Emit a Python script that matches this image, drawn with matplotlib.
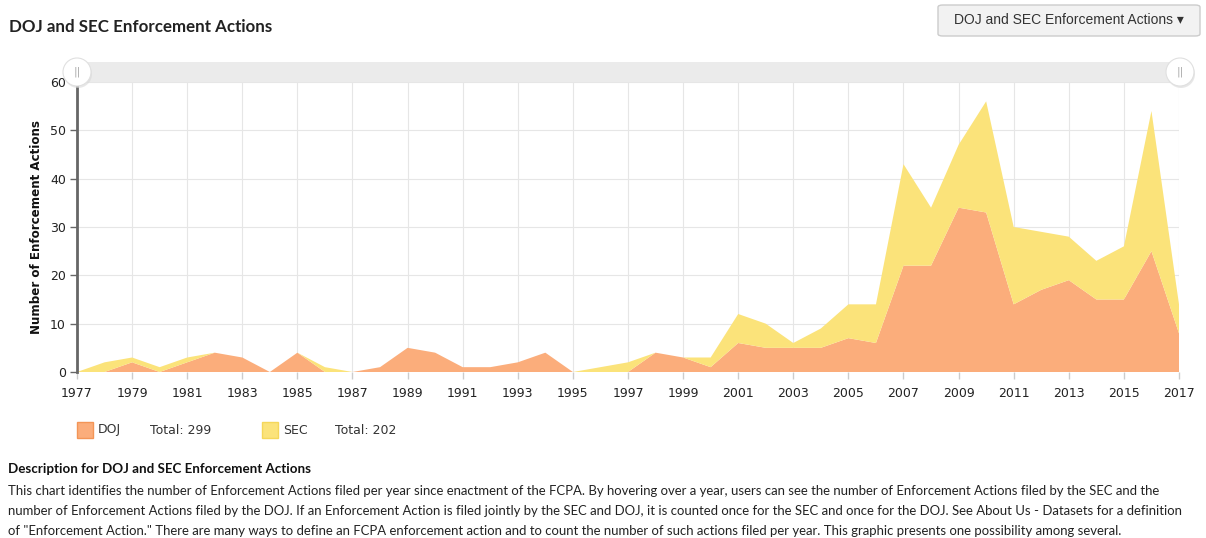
import matplotlib.pyplot as plt
from matplotlib.patches import FancyBboxPatch, Circle, Rectangle

years = list(range(1977, 2018))
doj = [0, 0, 2, 0, 2, 4, 3, 0, 4, 0,
       0, 1, 5, 4, 1, 1, 2, 4, 0, 0,
       0, 4, 3, 1, 6, 5, 5, 5, 7, 6,
       22, 22, 34, 33, 14, 17, 19, 15, 15, 25,
       8]
sec = [0, 2, 1, 1, 1, 0, 0, 0, 0, 1,
       0, 0, 0, 0, 0, 0, 0, 0, 0, 1,
       2, 0, 0, 2, 6, 5, 1, 4, 7, 8,
       21, 12, 13, 23, 16, 12, 9, 8, 11, 29,
       6]
series_names = ['DOJ', 'SEC']
title = 'DOJ and SEC Enforcement Actions'
desc_lines = [
    'This chart identifies the number of Enforcement Actions filed per year since enactment of the FCPA. '
    'By hovering over a year, users can see the number of Enforcement Actions filed by the SEC and the',
    'number of Enforcement Actions filed by the DOJ. If an Enforcement Action is filed jointly by the SEC '
    'and DOJ, it is counted once for the SEC and once for the DOJ. See About Us - Datasets for a definition',
    'of "Enforcement Action." There are many ways to define an FCPA enforcement action and to count the '
    'number of such actions filed per year. This graphic presents one possibility among several.',
]

DOJ_C = '#fbad7b'
SEC_C = '#fbe37a'
W, H = 1206, 538

fig = plt.figure(figsize=(W / 100, H / 100), dpi=100)


def fx(px):
    return px / W


def fy(py):
    return 1 - py / H


ax = fig.add_axes([fx(77), fy(372), fx(1179) - fx(77), fy(82) - fy(372)])
ax.stackplot(years, doj, sec, colors=[DOJ_C, SEC_C], linewidth=0)
ax.set_xlim(1977, 2017)
ax.set_ylim(0, 60)
ax.set_xticks(range(1977, 2018, 2))
ax.set_yticks(range(0, 61, 10))
ax.grid(True, color='#e6e6e6', linewidth=0.8)
ax.set_axisbelow(True)
for s in ['top', 'right', 'bottom']:
    ax.spines[s].set_visible(False)
ax.spines['left'].set_color('#666666')
ax.spines['left'].set_linewidth(2)
ax.tick_params(axis='y', length=5, width=1, color='#666666', labelsize=9,
               labelcolor='#222222', pad=3)
ax.tick_params(axis='x', length=5, width=1, color='#cccccc', labelsize=9,
               labelcolor='#222222', pad=6)
ax.set_ylabel('Number of Enforcement Actions', fontsize=8.6, fontweight='bold',
              color='#111111', labelpad=5)

# range slider on top
fig.patches.append(Rectangle((fx(77), fy(82)), fx(1179) - fx(77), fy(62) - fy(82),
                             transform=fig.transFigure, facecolor='#ebebeb',
                             edgecolor='none'))
for hx in [77, 1180]:
    shadow = Circle(((hx + 1) / 100, (H - 74) / 100), 0.14,
                    transform=fig.dpi_scale_trans, facecolor='#d8d8d8',
                    edgecolor='none', alpha=0.6)
    knob = Circle((hx / 100, (H - 72) / 100), 0.14, transform=fig.dpi_scale_trans,
                  facecolor='white', edgecolor='#e0e0e0', linewidth=0.8)
    fig.patches.extend([shadow, knob])
    fig.text(fx(hx), fy(72), '||', ha='center', va='center', fontsize=8,
             color='#aaaaaa')

# title and button
fig.text(fx(9), fy(27), title, fontsize=12.2, fontweight='bold', family='Lato',
         color='#222222', va='center')
fig.patches.append(FancyBboxPatch((fx(938), fy(36)), fx(1200) - fx(938), fy(5) - fy(36),
                                  boxstyle='round,pad=0,rounding_size=0.004',
                                  transform=fig.transFigure, facecolor='#f2f2f2',
                                  edgecolor='#cccccc', linewidth=1))
fig.text(fx(1069), fy(20), title + ' \u25BE', fontsize=10,
         family=['Liberation Sans', 'DejaVu Sans'], color='#333333',
         ha='center', va='center')

# legend
totals = [sum(doj), sum(sec)]
leg_x = [77, 262]
for name, col, tot, lx in zip(series_names, [DOJ_C, SEC_C], totals, leg_x):
    edge = '#f39557' if name == 'DOJ' else '#f5d75a'
    fig.patches.append(Rectangle((fx(lx), fy(438)), fx(16), fy(422) - fy(438),
                                 transform=fig.transFigure, facecolor=col,
                                 edgecolor=edge, linewidth=1))
    fig.text(fx(lx + 21), fy(430), name, fontsize=9, color='#333333', va='center')
    fig.text(fx(lx + 73), fy(430), f'Total: {tot}', fontsize=9, color='#333333',
             va='center')

# description
fig.text(fx(8), fy(469), 'Description for ' + title, fontsize=9.6, fontweight='bold',
         family='Lato', color='#111111', va='center')
for i, line in enumerate(desc_lines):
    fig.text(fx(8), fy(491 + 20 * i), line, fontsize=9.45, family='Lato',
             color='#222222', va='center')

fig.savefig('out.png', dpi=100)
